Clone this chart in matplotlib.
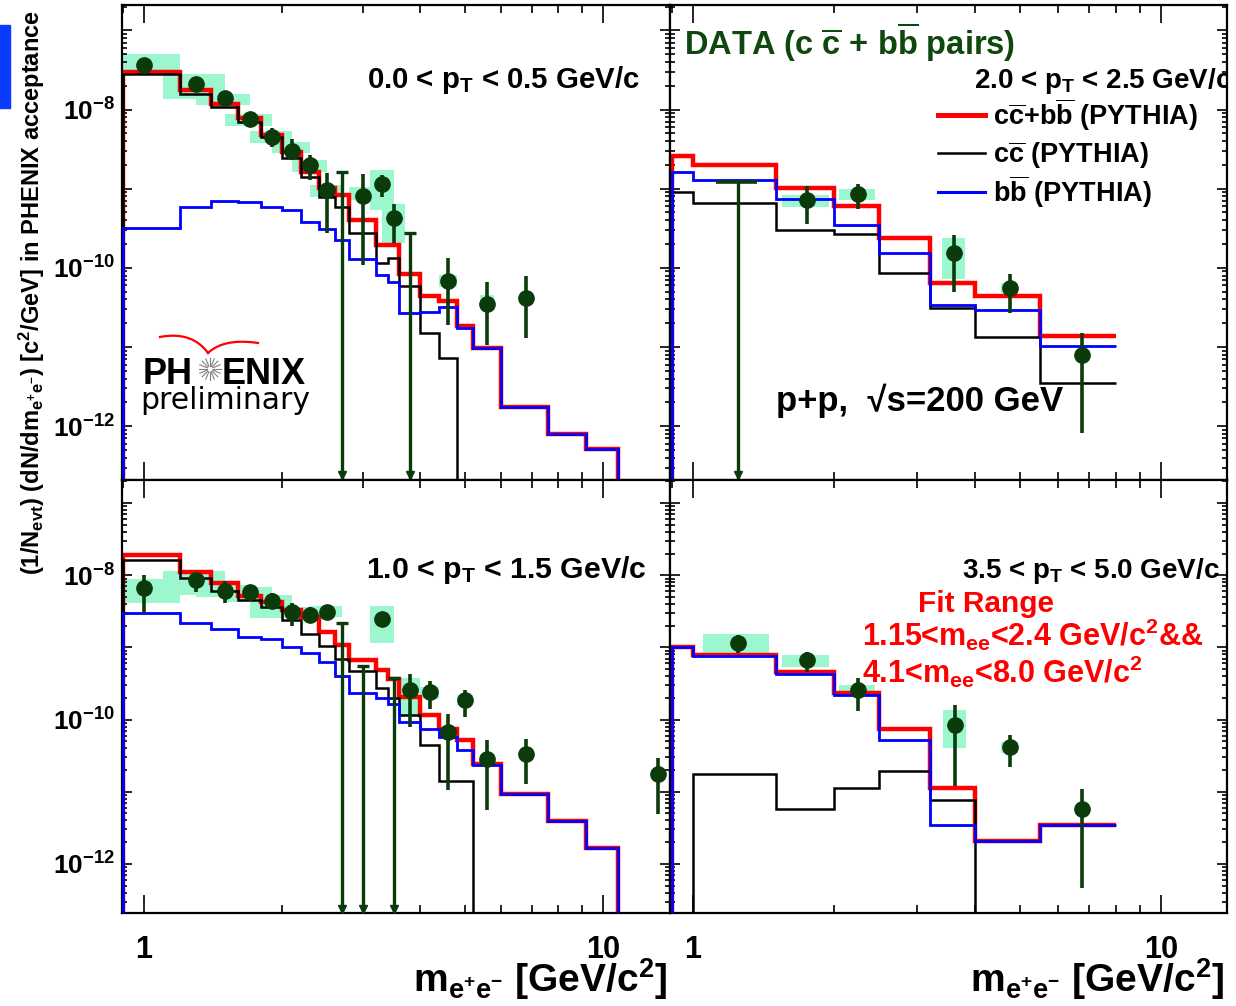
import numpy as np
import matplotlib
matplotlib.use("Agg")
import matplotlib.pyplot as plt
from matplotlib import font_manager
from matplotlib.lines import Line2D
from matplotlib.patches import Rectangle
from matplotlib.ticker import FixedLocator, LogLocator, FuncFormatter, NullFormatter

# ---- histogram binning (PYTHIA) ----
edges_left = [0.9, 1.2, 1.4, 1.6, 1.8, 2.0, 2.2, 2.4, 2.6, 2.8, 3.2, 3.4, 3.6,
              4.0, 4.4, 4.8, 5.2, 6.0, 7.6, 9.2, 10.8, 14.0]
edges_right = [0.9, 1.0, 1.5, 2.0, 2.5, 3.2, 4.0, 5.5, 8.0]

# ---- 0.0 < pT < 0.5 ----
tl_red = [2.99e-8, 1.75e-8, 1.19e-8, 7.7e-9, 4.74e-9, 2.92e-9, 1.64e-9, 1.01e-9, 8.3e-10, 4.03e-10,
          1.95e-10, 1.95e-10, 8.4e-11, 4.37e-11, 3.8e-11, 1.82e-11, 9.8e-12, 1.75e-12, 7.9e-13, 5.2e-13, 0]
tl_black = [2.84e-8, 1.59e-8, 1.08e-8, 7.0e-9, 4.52e-9, 2.41e-9, 1.42e-9, 7.8e-10, 5.9e-10, 2.73e-10,
            1.15e-10, 1.32e-10, 5.9e-11, 1.5e-11, 7.3e-12, 0, 0, 0, 0, 0, 0]
tl_blue = [3.16e-10, 5.8e-10, 7.0e-10, 6.7e-10, 5.9e-10, 5.3e-10, 3.84e-10, 3.07e-10, 2.25e-10, 1.31e-10,
           8.2e-11, 6.7e-11, 2.7e-11, 2.8e-11, 3.2e-11, 1.74e-11, 9.7e-12, 1.75e-12, 7.9e-13, 5.2e-13, 0]
tl_x = [1.0, 1.3, 1.5, 1.7, 1.9, 2.1, 2.3, 2.5, 3.0, 3.3, 3.5, 4.6, 5.6, 6.8]
tl_y = [3.62e-8, 2.13e-8, 1.38e-8, 7.55e-9, 4.52e-9, 3.01e-9, 1.99e-9, 9.6e-10, 8.1e-10, 1.135e-9,
        4.23e-10, 6.9e-11, 3.52e-11, 4.15e-11]
tl_hi = [3.62e-8, 2.13e-8, 1.38e-8, 7.55e-9, 5.77e-9, 4.19e-9, 2.65e-9, 1.59e-9, 1.52e-9, 1.49e-9,
         6.4e-10, 1.32e-10, 6.7e-11, 7.9e-11]
tl_lo = [3.62e-8, 2.13e-8, 1.38e-8, 7.55e-9, 3.39e-9, 2.41e-9, 1.29e-9, 2.74e-10, 1.09e-10, 7.9e-10,
         2.08e-10, 1.91e-11, 1.07e-11, 1.3e-11]
tl_sys_lo = [2.99e-8, 1.35e-8, 1.135e-8, 6.17e-9, 3.8e-9, 2.79e-9, 1.64e-9, 7.9e-10, 7.1e-10, 5.4e-10,
             2.08e-10, 5.8e-11, 3.26e-11, np.nan]
tl_sys_hi = [4.98e-8, 2.84e-8, 1.59e-8, 8.9e-9, 5.33e-9, 3.91e-9, 2.3e-9, 1.11e-9, 1.04e-9, 1.72e-9,
             6.4e-10, 8.2e-11, 4.57e-11, np.nan]
tl_ul_x = [2.7, 3.8]
tl_ul_y = [1.64e-9, 2.79e-10]

# ---- 1.0 < pT < 1.5 ----
bl_red = [1.91e-8, 1.12e-8, 7.7e-9, 5.2e-9, 4.3e-9, 3.3e-9, 2.67e-9, 1.65e-9, 1.08e-9, 6.7e-10,
          4.8e-10, 3.7e-10, 2.07e-10, 1.15e-10, 7.3e-11, 5.2e-11, 2.45e-11, 9.4e-12, 3.9e-12, 1.67e-12, 0]
bl_black = [1.63e-8, 9.1e-9, 6.1e-9, 4.5e-9, 3.6e-9, 2.4e-9, 1.53e-9, 1.04e-9, 7.0e-10, 4.74e-10,
            2.78e-10, 2.02e-10, 1.15e-10, 4.4e-11, 1.41e-11, 1.41e-11, 0, 0, 0, 0, 0]
bl_blue = [3.03e-9, 2.15e-9, 1.78e-9, 1.38e-9, 1.29e-9, 1.02e-9, 8.4e-10, 6.3e-10, 4.0e-10, 2.3e-10,
           2.0e-10, 1.67e-10, 9.3e-11, 7.5e-11, 5.75e-11, 3.83e-11, 2.32e-11, 9.4e-12, 3.9e-12, 1.67e-12, 0]
bl_x = [1.0, 1.3, 1.5, 1.7, 1.9, 2.1, 2.3, 2.5, 3.3, 3.8, 4.2, 4.6, 5.0, 5.6, 6.8, 13.2]
bl_y = [6.59e-9, 8.6e-9, 6.12e-9, 5.93e-9, 4.41e-9, 3.13e-9, 2.81e-9, 3.13e-9, 2.48e-9, 2.61e-10,
        2.42e-10, 6.7e-11, 1.86e-10, 2.87e-11, 3.37e-11, 1.74e-11]
bl_hi = [1.01e-8, 1.07e-8, 8.2e-9, 7.3e-9, 5.6e-9, 4.08e-9, 3.67e-9, 3.87e-9, 2.48e-9, 4.27e-10,
         3.44e-10, 1.21e-10, 2.61e-10, 5.16e-11, 5.45e-11, 2.96e-11]
bl_lo = [3.03e-9, 5.93e-9, 4.08e-9, 4.65e-9, 3.37e-9, 1.98e-9, 2.15e-9, 2.4e-9, 2.48e-9, 7.9e-11,
         1.38e-10, 1.07e-11, 1.07e-10, 5.5e-12, 1.29e-11, 4.9e-12]
bl_sys_lo = [4.17e-9, 5.33e-9, 5.06e-9, 4.31e-9, 2.53e-9, 2.53e-9, 2.4e-9, 2.67e-9, 1.16e-9, 1.15e-10,
             1.96e-10, np.nan, 1.58e-10, 2.45e-11, np.nan, 1.48e-11]
bl_sys_hi = [8.9e-9, 1.15e-8, 7.3e-9, 6.97e-9, 5.33e-9, 3.67e-9, 3.3e-9, 3.75e-9, 3.75e-9, 3.83e-10,
             2.84e-10, np.nan, 2.18e-10, 3.37e-11, np.nan, 2.04e-11]
bl_ul_x = [2.7, 3.0, 3.5]
bl_ul_y = [2.15e-9, 5.5e-10, 3.83e-10]

# ---- 2.0 < pT < 2.5 ----
tr_red = [2.61e-9, 2.0e-9, 1.03e-9, 6.1e-10, 2.37e-10, 6.4e-11, 4.36e-11, 1.36e-11]
tr_black = [9.0e-10, 6.5e-10, 3.01e-10, 2.69e-10, 8.7e-11, 3.1e-11, 1.34e-11, 3.5e-12]
tr_blue = [1.61e-9, 1.29e-9, 7.4e-10, 3.48e-10, 1.56e-10, 3.42e-11, 2.96e-11, 1.02e-11]
tr_x = [1.75, 2.25, 3.6, 4.75, 6.75]
tr_y = [7.2e-10, 8.5e-10, 1.56e-10, 5.5e-11, 8.0e-12]
tr_hi = [1.08e-9, 1.135e-9, 2.61e-10, 8.4e-11, 1.51e-11]
tr_lo = [3.59e-10, 5.55e-10, 5.0e-11, 2.69e-11, 8.3e-13]
tr_sys_lo = [5.9e-10, 7.1e-10, 7.3e-11, 4.8e-11, 7.1e-12]
tr_sys_hi = [8.3e-10, 9.8e-10, 2.37e-10, 6.5e-11, 8.9e-12]
tr_ul_x = [1.25]
tr_ul_y = [1.22e-9]

# ---- 3.5 < pT < 5.0 ----
br_red = [1.02e-9, 7.8e-10, 4.6e-10, 2.34e-10, 7.3e-11, 1.14e-11, 2.07e-12, 3.5e-12]
br_black = [0, 1.74e-11, 5.7e-12, 1.14e-11, 1.94e-11, 7.6e-12, 0, 0]
br_blue = [1.0e-9, 7.6e-10, 4.35e-10, 2.22e-10, 5.2e-11, 3.5e-12, 2.07e-12, 3.5e-12]
br_x = [1.25, 1.75, 2.25, 3.62, 4.75, 6.75]
br_y = [1.14e-9, 6.67e-10, 2.61e-10, 8.5e-11, 4.17e-11, 5.7e-12]
br_hi = [1.48e-9, 8.7e-10, 3.83e-10, 1.61e-10, 6.05e-11, 1.1e-11]
br_lo = [8.3e-10, 4.59e-10, 1.32e-10, 1.22e-11, 2.2e-11, 4.7e-13]
br_sys_lo = [8.4e-10, 5.4e-10, 2.34e-10, 4.08e-11, 3.44e-11, np.nan]
br_sys_hi = [1.53e-9, 7.8e-10, 3.0e-10, 1.35e-10, 4.9e-11, np.nan]
br_ul_x = []
br_ul_y = []

W, H = 1236, 1006
YMIN, YMAX = 10 ** -12.68, 10 ** -6.68
DG = '#0b3a0b'
BOX = '#9cf7cf'

names = {f.name for f in font_manager.fontManager.ttflist}
NARROW = 'Liberation Sans Narrow' if 'Liberation Sans Narrow' in names else 'Liberation Sans'
nscale = 1.0 if NARROW == 'Liberation Sans Narrow' else 0.85

plt.rcParams['font.family'] = ['Liberation Sans', 'DejaVu Sans']
plt.rcParams['font.weight'] = 'bold'
plt.rcParams['mathtext.fontset'] = 'custom'
plt.rcParams['mathtext.rm'] = 'Liberation Sans:bold'
plt.rcParams['mathtext.it'] = 'Liberation Sans:bold'
plt.rcParams['mathtext.bf'] = 'Liberation Sans:bold'
plt.rcParams['mathtext.sf'] = 'Liberation Sans:bold'
plt.rcParams['mathtext.default'] = 'rm'


def fx(px):
    return px / W


def fy(py):
    return 1 - py / H


fig = plt.figure(figsize=(W / 100, H / 100), dpi=100)

panels = [
    dict(rect=(122, 5, 670, 480), edges=edges_left, red=tl_red, black=tl_black, blue=tl_blue,
         x=tl_x, y=tl_y, lo=tl_lo, hi=tl_hi, slo=tl_sys_lo, shi=tl_sys_hi,
         ulx=tl_ul_x, uly=tl_ul_y, xlim=(0.895, 14.0), ylab=True, xlab=False),
    dict(rect=(670, 5, 1227, 480), edges=edges_right, red=tr_red, black=tr_black, blue=tr_blue,
         x=tr_x, y=tr_y, lo=tr_lo, hi=tr_hi, slo=tr_sys_lo, shi=tr_sys_hi,
         ulx=tr_ul_x, uly=tr_ul_y, xlim=(0.893, 13.8), ylab=False, xlab=False),
    dict(rect=(122, 480, 670, 913), edges=edges_left, red=bl_red, black=bl_black, blue=bl_blue,
         x=bl_x, y=bl_y, lo=bl_lo, hi=bl_hi, slo=bl_sys_lo, shi=bl_sys_hi,
         ulx=bl_ul_x, uly=bl_ul_y, xlim=(0.895, 14.0), ylab=True, xlab=True),
    dict(rect=(670, 480, 1227, 913), edges=edges_right, red=br_red, black=br_black, blue=br_blue,
         x=br_x, y=br_y, lo=br_lo, hi=br_hi, slo=br_sys_lo, shi=br_sys_hi,
         ulx=br_ul_x, uly=br_ul_y, xlim=(0.893, 13.8), ylab=False, xlab=True),
]


def draw_hist(ax, edges, vals, color, lw, z):
    v = np.array(vals, float)
    v[v <= 0] = 1e-20
    e = np.array(edges, float)
    ax.stairs(np.r_[1e-20, v], np.r_[e[0] * 0.5, e], baseline=None, color=color, lw=lw, zorder=z)


def ylabfmt(v, pos):
    k = int(round(np.log10(v)))
    return r'$10^{%d}$' % k if k % 2 == 0 else ''


axes = []
for p in panels:
    x0, y0, x1, y1 = p['rect']
    ax = fig.add_axes([fx(x0), fy(y1), (x1 - x0) / W, (y1 - y0) / H])
    axes.append(ax)
    ax.set_xscale('log')
    ax.set_yscale('log')
    ax.set_xlim(*p['xlim'])
    ax.set_ylim(YMIN, YMAX)

    # systematic boxes
    for xi, a, b in zip(p['x'], p['slo'], p['shi']):
        if np.isnan(a):
            continue
        ax.add_patch(Rectangle((xi - 0.2, a), 0.4, b - a, color=BOX, lw=0, zorder=1))

    draw_hist(ax, p['edges'], p['red'], 'red', 3.2, 2)
    draw_hist(ax, p['edges'], p['black'], 'black', 1.8, 3)
    draw_hist(ax, p['edges'], p['blue'], 'blue', 2.0, 4)

    x = np.array(p['x'])
    y = np.array(p['y'])
    ax.errorbar(x, y, yerr=[y - np.array(p['lo']), np.array(p['hi']) - y], fmt='o', color=DG,
                ms=11, elinewidth=2.6, capsize=0, zorder=6)

    # upper limits (arrow down to the axis)
    if p['ulx']:
        ux = np.array(p['ulx'])
        uy = np.array(p['uly'])
        ax.vlines(ux, YMIN, uy, color=DG, lw=2.4, zorder=6)
        if p is panels[1]:
            ax.hlines(uy, ux - 0.13, ux + 0.12, color=DG, lw=2.6, zorder=6)
        else:
            ax.plot(ux, uy, '_', ms=9, mew=2.4, color=DG, zorder=6)
        ax.plot(ux, np.full(len(ux), YMIN * 10 ** 0.06), 'v', ms=6, color=DG, zorder=6)

    ax.xaxis.set_major_locator(FixedLocator([1, 10]))
    ax.xaxis.set_minor_locator(LogLocator(base=10, subs=np.arange(2, 10), numticks=10))
    ax.xaxis.set_minor_formatter(NullFormatter())
    ax.yaxis.set_major_locator(LogLocator(base=10, numticks=20))
    ax.yaxis.set_minor_locator(LogLocator(base=10, subs=np.arange(2, 10), numticks=20))
    ax.yaxis.set_minor_formatter(NullFormatter())
    if p['ylab']:
        ax.yaxis.set_major_formatter(FuncFormatter(ylabfmt))
    else:
        ax.yaxis.set_major_formatter(NullFormatter())
    if p['xlab']:
        ax.xaxis.set_major_formatter(FuncFormatter(lambda v, pos: '%d' % round(v)))
    else:
        ax.xaxis.set_major_formatter(NullFormatter())

    ax.tick_params(which='both', direction='in', top=True, right=True, width=1.2)
    ax.tick_params(axis='x', which='major', length=13, pad=16)
    ax.tick_params(axis='x', which='minor', length=6)
    ax.tick_params(axis='y', which='major', length=7, pad=5, labelsize=19)
    ax.tick_params(axis='y', which='minor', length=3.5)
    for lbl in ax.get_xticklabels():
        lbl.set_fontfamily(NARROW)
        lbl.set_fontsize(26 * nscale)
    for s in ax.spines.values():
        s.set_linewidth(1.6)

# pT bin labels
fig.text(fx(640), fy(88), r'0.0 < p$_T$ < 0.5 GeV/c', ha='right', va='baseline', fontsize=21.2)
axes[1].text(fx(1232), fy(88), r'2.0 < p$_T$ < 2.5 GeV/c', ha='right', va='baseline', fontsize=20,
             transform=fig.transFigure, clip_on=True)
fig.text(fx(647), fy(578), r'1.0 < p$_T$ < 1.5 GeV/c', ha='right', va='baseline', fontsize=21.8)
fig.text(fx(1220), fy(578), r'3.5 < p$_T$ < 5.0 GeV/c', ha='right', va='baseline', fontsize=20)

# data label and legend
fig.text(fx(684), fy(55), r'DATA (c $\overline{c}$ + b$\overline{b}$ pairs)', ha='left', va='baseline',
         fontsize=23.5, color='#0e480e')
leg = [('red', 3.6, r'c$\overline{c}$+b$\overline{b}$ (PYTHIA)', 115),
       ('black', 1.8, r'c$\overline{c}$ (PYTHIA)', 153),
       ('blue', 2.2, r'b$\overline{b}$ (PYTHIA)', 192)]
for col, lw, txt, yy in leg:
    fig.add_artist(Line2D([fx(938), fx(985)], [fy(yy), fy(yy)], color=col, lw=lw))
    fig.text(fx(993), fy(yy + 10), txt, ha='left', va='baseline', fontsize=19.5)

fig.text(fx(776), fy(411), 'p+p,  \u221as=200 GeV', ha='left', va='baseline', fontsize=25)

# fit range annotation
fig.text(fx(986), fy(612), 'Fit Range', ha='center', va='baseline', fontsize=21.5, color='red')
fig.text(fx(862), fy(646), r'1.15<m$_{ee}$<2.4 GeV/c$^{2}$&&', ha='left', va='baseline', fontsize=22,
         color='red')
fig.text(fx(862), fy(683), r'4.1<m$_{ee}$<8.0 GeV/c$^{2}$', ha='left', va='baseline', fontsize=22,
         color='red')

# PHENIX preliminary logo
fig.text(fx(143), fy(384), 'PH', ha='left', va='baseline', fontsize=26)
fig.text(fx(222), fy(384), 'ENIX', ha='left', va='baseline', fontsize=26)
for ang in np.arange(0, 360, 22.5):
    c, s = np.cos(np.radians(ang)), np.sin(np.radians(ang))
    fig.add_artist(Line2D([fx(210 + 3 * c), fx(210 + 11 * c)], [fy(369 + 3 * s), fy(369 + 11 * s)],
                          color='#808080', lw=0.8))
t = np.linspace(0, 1, 30)
for p0, p1, p2 in [((160, 337), (192, 331), (208, 353)), ((208, 353), (224, 338), (258, 343))]:
    bx = (1 - t) ** 2 * p0[0] + 2 * (1 - t) * t * p1[0] + t ** 2 * p2[0]
    by = (1 - t) ** 2 * p0[1] + 2 * (1 - t) * t * p1[1] + t ** 2 * p2[1]
    fig.add_artist(Line2D(fx(bx), fy(by), color='red', lw=1.6))
fig.text(fx(140), fy(409), 'preliminary', ha='left', va='baseline', fontsize=21.5,
         fontweight='normal', family='DejaVu Sans')

# axis titles
fig.text(fx(32), fy(10), r'(1/N$_{evt}$) (dN/dm$_{e^{+}e^{-}}$) [c$^{2}$/GeV] in PHENIX acceptance',
         rotation=90, ha='center', va='top', fontsize=20 * nscale, family=NARROW)
for xr in (668, 1225):
    fig.text(fx(xr), fy(992), r'm$_{e^{+}e^{-}}$ [GeV/c$^{2}$]', ha='right', va='baseline',
             fontsize=33 * nscale, family=NARROW)

fig.patches.append(Rectangle((0, fy(108)), fx(10), 83 / H, transform=fig.transFigure,
                             color='#0a3cff', figure=fig))

fig.savefig('out.png', dpi=100)
